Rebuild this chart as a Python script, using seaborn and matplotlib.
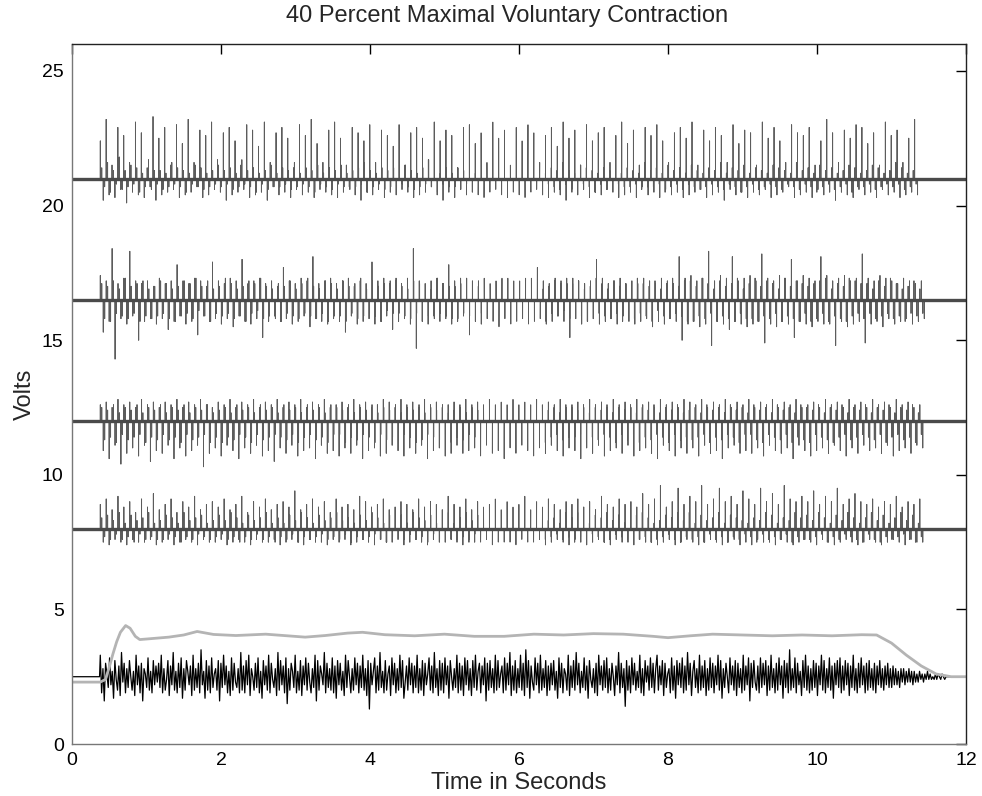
import numpy as np
import pandas as pd
import matplotlib.pyplot as plt
import seaborn as sns

# Motor unit channels: baseline offset (V), active window (s)
baselines = [21.0, 16.5, 12.0, 8.0]
spike_start = [0.38, 0.38, 0.38, 0.38]
spike_end = [11.35, 11.44, 11.42, 11.42]

# large spike excursions, tenths of a volt from the baseline
amp_a = [
    14, -8, 22, -6, 5, -7, 19, -4, 16, -9, 6, -5, 21, -6, 17, -7, 4, -3, 23, -8,
    15, -6, 19, -5, 5, -4, 20, -7, 13, -6, 22, -5, 6, -3, 18, -7, 16, -6, 21, -4,
    7, -5, 17, -8, 19, -6, 14, -5, 5, -4, 20, -7, 18, -6, 12, -5, 21, -8, 6, -3,
    17, -6, 19, -5, 15, -7, 4, -4, 20, -6, 16, -5, 22, -7, 13, -4, 6, -5, 18, -6,
    21, -7, 15, -5, 5, -3, 19, -6, 17, -8, 14, -5, 20, -6, 6, -4, 18, -7, 16, -5,
    12, -6, 20, -4, 5, -5, 17, -7, 19, -6, 15, -5, 7, -3, 21, -6, 14, -8, 18, -5,
    16, -7, 4, -4, 19, -6, 20, -5, 13, -6, 17, -7, 6, -5, 21, -4, 15, -6, 18, -7,
    5, -5, 19, -6, 14, -7, 20, -5, 17, -4, 6, -6, 16, -7, 19, -5, 12, -6, 21, -8,
    15, -5, 18, -6, 5, -4, 20, -7, 14, -5, 17, -6, 19, -4, 6, -5, 16, -7, 21, -6,
    13, -5, 18, -7, 5, -3, 19, -6, 16, -5, 20, -7, 14, -4, 6, -6, 17, -5, 19, -7,
    15, -6, 21, -5, 5, -4, 18, -7, 14, -6, 19, -5, 16, -8, 6, -4, 20, -6, 13, -5,
    18, -7, 17, -5, 5, -6, 21, -4, 15, -7, 19, -6, 14, -5, 6, -3, 20, -7, 17, -6,
    16, -5, 19, -7, 5, -4, 14, -6, 22, -5, 17, -8, 6, -5, 18, -6, 15, -7, 20, -4,
    19, -6, 13, -5, 17, -7, 5, -4, 21, -6, 16, -5, 18, -7, 6, -6, 15, -5, 22, -6,
]
amp_b = [
    9, -12, 7, -8, 19, -22, 6, -7, 8, -9, 18, -6, 7, -15, 6, -8, 7, -7, 5, -9,
    8, -7, 6, -11, 7, -8, 13, -6, 7, -9, 6, -8, 8, -13, 7, -6, 5, -8, 14, -7,
    7, -9, 6, -7, 8, -10, 7, -6, 15, -8, 6, -9, 7, -7, 8, -14, 6, -8, 7, -6,
    5, -8, 12, -7, 7, -9, 6, -8, 8, -6, 7, -10, 16, -7, 6, -8, 7, -9, 8, -7,
    6, -8, 7, -12, 8, -6, 5, -9, 7, -8, 6, -7, 14, -9, 7, -8, 8, -6, 6, -11,
    7, -8, 6, -7, 8, -9, 19, -18, 7, -8, 6, -9, 7, -6, 8, -8, 6, -7, 13, -9,
    7, -8, 8, -6, 6, -13, 7, -8, 5, -9, 8, -7, 6, -8, 7, -10, 6, -7, 8, -9,
    6, -8, 7, -7, 8, -9, 6, -8, 12, -7, 7, -9, 6, -8, 8, -6, 7, -8, 6, -14,
    8, -7, 7, -9, 6, -8, 7, -7, 15, -9, 8, -8, 6, -7, 7, -9, 8, -6, 6, -8,
    7, -9, 6, -8, 8, -7, 7, -10, 6, -8, 8, -9, 7, -7, 6, -8, 16, -15, 8, -9,
    9, -8, 7, -10, 8, -9, 18, -17, 7, -8, 9, -9, 8, -11, 16, -8, 7, -9, 8, -10,
    9, -9, 7, -8, 17, -16, 8, -9, 7, -10, 9, -8, 8, -9, 15, -14, 7, -8, 9, -9,
    8, -10, 7, -8, 16, -9, 9, -9, 7, -17, 8, -8, 9, -10, 7, -9, 8, -8, 17, -16,
    8, -9, 7, -8, 9, -10, 8, -7, 7, -9, 6, -8, 8, -7, 7, -9, 6, -8, 7, -7,
]
amp_c = [
    6, -11, 7, -14, 5, -9, 8, -16, 6, -12, 7, -10, 5, -13, 8, -9, 6, -15, 7, -11,
    5, -12, 7, -9, 6, -14, 8, -10, 5, -13, 7, -11, 6, -9, 8, -17, 6, -12, 5, -10,
    7, -13, 6, -9, 8, -11, 5, -14, 7, -10, 6, -12, 8, -9, 5, -13, 7, -11, 6, -15,
    8, -10, 5, -12, 7, -9, 6, -13, 8, -11, 5, -10, 7, -14, 6, -9, 8, -12, 5, -11,
    6, -13, 7, -10, 5, -12, 8, -9, 6, -14, 7, -11, 5, -10, 6, -13, 8, -12, 7, -9,
    5, -11, 8, -13, 6, -10, 7, -12, 5, -9, 8, -14, 6, -11, 7, -10, 5, -13, 6, -12,
    7, -9, 6, -12, 8, -11, 5, -10, 7, -13, 6, -9, 8, -12, 5, -11, 7, -14, 6, -10,
    8, -12, 5, -9, 7, -11, 6, -13, 8, -10, 5, -12, 7, -9, 6, -11, 8, -13, 5, -10,
    6, -11, 7, -14, 5, -10, 8, -12, 6, -9, 7, -13, 5, -11, 8, -10, 6, -12, 7, -9,
    5, -13, 8, -11, 6, -10, 7, -12, 5, -14, 8, -9, 6, -11, 7, -13, 5, -10, 8, -12,
    7, -10, 6, -13, 8, -9, 5, -12, 7, -11, 6, -14, 8, -10, 5, -9, 7, -12, 6, -11,
    8, -12, 5, -10, 7, -13, 6, -9, 8, -11, 5, -12, 7, -10, 6, -14, 8, -9, 5, -11,
    6, -13, 7, -11, 5, -10, 8, -12, 6, -9, 7, -11, 5, -13, 8, -10, 6, -12, 7, -9,
    5, -11, 8, -10, 6, -12, 7, -9, 5, -13, 8, -11, 6, -10, 7, -12, 5, -9, 6, -10,
]
amp_d = [
    9, -5, 11, -6, 7, -4, 12, -5, 8, -6, 10, -4, 6, -5, 11, -5, 8, -4, 13, -6,
    7, -5, 9, -4, 11, -6, 6, -5, 10, -4, 8, -5, 12, -6, 7, -4, 9, -5, 10, -5,
    8, -4, 11, -6, 7, -5, 9, -4, 12, -5, 6, -6, 10, -4, 8, -5, 11, -5, 7, -4,
    9, -6, 10, -5, 8, -4, 14, -5, 7, -6, 9, -4, 11, -5, 8, -5, 10, -6, 6, -4,
    11, -5, 8, -4, 9, -6, 7, -5, 12, -4, 10, -5, 8, -6, 9, -4, 11, -5, 7, -5,
    8, -4, 10, -6, 9, -5, 7, -4, 11, -5, 8, -6, 10, -4, 9, -5, 7, -5, 12, -4,
    9, -5, 8, -6, 11, -4, 7, -5, 10, -5, 8, -4, 9, -6, 11, -5, 7, -4, 10, -5,
    8, -6, 9, -4, 12, -5, 7, -5, 10, -4, 8, -6, 11, -5, 9, -4, 7, -5, 10, -6,
    9, -4, 11, -5, 8, -6, 10, -5, 7, -4, 12, -5, 9, -6, 8, -4, 11, -5, 9, -5,
    10, -6, 8, -4, 13, -5, 9, -5, 11, -6, 16, -5, 8, -4, 10, -6, 15, -5, 9, -4,
    12, -5, 10, -6, 16, -5, 9, -4, 11, -5, 15, -6, 10, -5, 12, -4, 9, -6, 14, -5,
    11, -6, 9, -4, 15, -5, 10, -5, 13, -6, 9, -4, 16, -5, 11, -6, 10, -5, 12, -4,
    10, -5, 14, -6, 9, -4, 12, -5, 10, -6, 15, -5, 9, -4, 11, -5, 13, -6, 10, -5,
    9, -4, 11, -5, 8, -6, 10, -5, 9, -4, 12, -5, 8, -6, 10, -4, 9, -5, 11, -5,
]

# smaller background activity between the large spikes, tenths of a volt
fuzz_a = [
    4, -3, 6, -5, 3, -2, 8, -4, 3, -3, 5, -2, 4, -5, 2, -3, 7, -4, 3, -2,
    3, -4, 2, -3, 6, -2, 4, -3, 3, -5, 2, -2, 5, -3, 4, -4, 2, -3, 3, -2,
    5, -3, 3, -2, 4, -4, 2, -3, 7, -2, 3, -3, 4, -5, 2, -2, 3, -4, 5, -3,
    2, -3, 4, -2, 3, -4, 6, -3, 2, -2, 4, -3, 3, -5, 5, -2, 2, -3, 4, -4,
    3, -2, 5, -3, 2, -4, 3, -3, 4, -2, 6, -5, 3, -3, 2, -2, 4, -4, 3, -3,
    4, -4, 2, -2, 5, -3, 3, -4, 2, -3, 4, -2, 7, -3, 3, -5, 2, -2, 4, -3,
    2, -3, 4, -4, 3, -2, 5, -3, 2, -4, 3, -3, 4, -2, 6, -3, 3, -4, 2, -2,
    5, -2, 3, -3, 4, -5, 2, -2, 3, -4, 5, -3, 2, -2, 4, -3, 3, -4, 6, -2,
    3, -4, 2, -3, 5, -2, 4, -3, 3, -5, 2, -2, 4, -4, 3, -3, 5, -2, 2, -3,
    4, -3, 3, -2, 2, -4, 6, -3, 3, -3, 4, -2, 2, -5, 5, -3, 3, -2, 4, -4,
    2, -2, 5, -3, 3, -4, 2, -3, 4, -2, 3, -3, 6, -4, 2, -2, 4, -3, 3, -5,
    5, -3, 2, -2, 4, -4, 3, -3, 2, -2, 5, -3, 4, -4, 3, -2, 2, -3, 6, -4,
    3, -2, 4, -3, 2, -5, 5, -3, 3, -2, 4, -4, 2, -3, 3, -2, 5, -5, 4, -3,
    2, -3, 3, -2, 5, -4, 4, -3, 2, -2, 3, -3, 6, -2, 4, -4, 2, -3, 3, -2,
]
fuzz_b = [
    6, -7, 5, -8, 7, -5, 4, -6, 8, -7, 5, -5, 6, -8, 7, -6, 4, -7, 5, -6,
    7, -5, 6, -7, 4, -8, 5, -6, 7, -5, 6, -7, 8, -4, 5, -6, 7, -8, 4, -5,
    5, -6, 8, -5, 6, -7, 4, -6, 5, -8, 7, -5, 6, -4, 8, -7, 5, -6, 4, -7,
    6, -8, 5, -5, 7, -6, 4, -7, 6, -5, 8, -6, 5, -7, 4, -5, 7, -8, 6, -6,
    4, -6, 7, -8, 5, -5, 6, -7, 8, -6, 4, -5, 7, -6, 5, -8, 6, -4, 7, -5,
    8, -5, 5, -6, 4, -7, 7, -5, 6, -8, 5, -6, 4, -7, 8, -5, 6, -6, 5, -7,
    5, -7, 6, -5, 8, -6, 4, -8, 7, -5, 5, -7, 6, -4, 4, -6, 8, -7, 5, -5,
    7, -6, 4, -7, 5, -5, 8, -6, 6, -7, 4, -8, 5, -5, 7, -6, 6, -4, 8, -7,
    6, -5, 7, -6, 4, -8, 5, -7, 8, -5, 6, -6, 4, -7, 7, -5, 5, -8, 6, -6,
    4, -7, 8, -5, 6, -6, 5, -8, 7, -4, 4, -6, 6, -7, 8, -5, 5, -6, 7, -8,
    7, -8, 5, -6, 8, -7, 6, -5, 4, -8, 7, -6, 5, -7, 6, -8, 8, -5, 4, -7,
    6, -7, 8, -8, 5, -6, 7, -7, 6, -5, 4, -8, 8, -6, 5, -7, 7, -8, 6, -5,
    5, -8, 6, -7, 7, -5, 8, -8, 4, -6, 6, -7, 5, -8, 8, -6, 7, -5, 6, -7,
    6, -5, 4, -7, 7, -6, 5, -5, 8, -7, 6, -6, 4, -8, 5, -5, 7, -6, 4, -5,
]
fuzz_c = [
    5, -7, 4, -6, 6, -8, 3, -5, 5, -7, 4, -6, 6, -5, 3, -8, 5, -6, 4, -7,
    6, -5, 3, -7, 5, -6, 4, -8, 6, -5, 3, -7, 5, -6, 4, -5, 6, -8, 3, -6,
    4, -8, 5, -6, 3, -7, 6, -5, 4, -6, 5, -8, 3, -5, 6, -7, 4, -6, 5, -5,
    3, -6, 6, -7, 4, -5, 5, -8, 3, -6, 6, -5, 4, -7, 5, -6, 3, -8, 6, -5,
    5, -5, 4, -8, 6, -6, 3, -7, 5, -5, 4, -6, 6, -8, 3, -5, 5, -7, 4, -6,
    6, -7, 3, -5, 5, -6, 4, -8, 6, -7, 3, -5, 5, -6, 4, -7, 6, -5, 3, -8,
    4, -6, 5, -7, 3, -5, 6, -6, 4, -8, 5, -5, 3, -7, 6, -6, 4, -5, 5, -8,
    3, -8, 6, -5, 4, -6, 5, -7, 3, -5, 6, -8, 4, -6, 5, -5, 3, -7, 6, -6,
    5, -6, 4, -5, 6, -8, 3, -6, 5, -7, 4, -5, 6, -6, 3, -8, 5, -5, 4, -7,
    6, -5, 3, -8, 5, -6, 4, -7, 6, -5, 3, -6, 5, -8, 4, -5, 6, -7, 3, -6,
    4, -7, 5, -6, 3, -5, 6, -8, 4, -6, 5, -7, 3, -5, 6, -6, 4, -8, 5, -5,
    3, -5, 6, -7, 4, -8, 5, -5, 3, -6, 6, -7, 4, -5, 5, -8, 3, -6, 6, -7,
    5, -8, 4, -5, 6, -6, 3, -7, 5, -8, 4, -6, 6, -5, 3, -7, 5, -6, 4, -5,
    6, -6, 3, -7, 5, -5, 4, -8, 6, -6, 3, -5, 5, -7, 4, -6, 6, -8, 3, -5,
]
fuzz_d = [
    4, -3, 5, -4, 3, -2, 6, -4, 2, -3, 5, -5, 3, -2, 4, -4, 6, -3, 2, -4,
    3, -4, 5, -2, 4, -3, 2, -5, 6, -3, 3, -4, 4, -2, 5, -3, 2, -4, 3, -3,
    5, -2, 3, -4, 6, -3, 4, -5, 2, -3, 5, -4, 3, -2, 4, -4, 6, -3, 2, -5,
    4, -3, 2, -4, 5, -2, 3, -5, 6, -3, 4, -4, 2, -3, 5, -2, 3, -4, 4, -3,
    6, -4, 3, -2, 4, -5, 2, -3, 5, -4, 3, -3, 6, -2, 4, -4, 2, -5, 5, -3,
    3, -3, 5, -4, 2, -2, 6, -4, 4, -3, 3, -5, 5, -2, 2, -4, 4, -3, 6, -4,
    2, -4, 4, -3, 6, -5, 3, -2, 5, -4, 4, -3, 2, -4, 6, -3, 3, -5, 4, -2,
    5, -3, 3, -4, 4, -2, 6, -5, 2, -3, 5, -4, 3, -3, 4, -2, 2, -4, 6, -3,
    4, -5, 6, -3, 3, -4, 2, -2, 5, -3, 4, -5, 6, -4, 3, -2, 5, -3, 2, -4,
    3, -2, 5, -4, 6, -3, 4, -5, 2, -4, 3, -3, 5, -2, 4, -4, 6, -5, 3, -3,
    6, -4, 2, -3, 5, -5, 3, -2, 4, -4, 6, -3, 2, -5, 5, -3, 4, -4, 3, -2,
    2, -3, 4, -5, 3, -2, 6, -4, 5, -3, 2, -4, 4, -2, 3, -5, 6, -3, 4, -4,
    5, -4, 3, -3, 6, -2, 4, -5, 2, -3, 5, -4, 3, -2, 6, -3, 4, -4, 2, -5,
    4, -2, 6, -4, 3, -5, 5, -3, 2, -4, 4, -3, 6, -2, 3, -4, 5, -5, 2, -3,
]
spike_amps = [amp_a, amp_b, amp_c, amp_d]
fuzz_amps = [fuzz_a, fuzz_b, fuzz_c, fuzz_d]

# Surface EMG (black), tenths of a volt around 2.5 V
emg_base = 2.5
emg_start = 0.38
emg_end = 11.75
emg_vals = [
    8, -6, 3, -9, 5, 1, -4, 7, -3, 2, -8, 6, -1, -5, 4, -7, 9, -2, 5, -6,
    3, -4, 6, 0, -5, 2, -7, 8, -3, 4, -6, 5, -9, 3, 1, -4, 7, -5, 2, -6,
    6, -3, 4, -2, 5, -4, 8, -6, 3, -5, -1, 6, -7, 4, -3, 9, -5, 2, -6, 5,
    -4, 7, -8, 3, -5, 6, 2, -3, 4, -7, 8, -5, 3, -4, 5, -6, 10, -3, 2, -8,
    6, -5, 4, -6, 7, -4, 1, 3, -5, 6, -9, 5, -4, 8, -3, 4, -6, 2, -7, 7,
    -5, 5, -2, -4, 3, -6, 9, -5, 4, -6, 6, -3, 8, -7, 3, 0, -5, 5, -4, 7,
    -6, 2, -8, 6, -3, 4, -5, 8, -6, 5, -1, -4, 3, -7, 9, -5, 6, -3, 4, -6,
    7, -10, 3, -5, 5, 2, -4, 8, -6, 2, -5, 6, -7, 4, -3, 7, -5, 5, -2, -6,
    3, -4, 8, -9, 6, -5, 4, 1, -3, 9, -6, 5, -4, 3, -5, 7, -6, 4, -8, 6,
    -3, 5, -5, 2, -7, 8, -4, 6, 0, -6, 3, -5, 7, -3, 5, -6, 4, -4, 8, -5,
    3, -7, 6, -12, 5, -3, 2, 7, -6, 4, -5, 9, -4, 2, -6, 6, -5, 1, 4, -7,
    7, -3, 5, -6, 3, -5, 8, -4, 6, -8, -2, 4, -5, 7, -3, 5, -6, 4, -4, 8,
    -6, 3, -5, 6, -7, 5, -3, 1, 7, -5, 4, -6, 9, -4, 3, -7, 6, -5, 5, -6,
    7, -3, 4, -8, 6, 0, -5, 3, -4, 8, -6, 5, -5, 4, -7, 7, -3, 6, -5, 3,
    -7, 6, -4, 8, -5, 2, 5, -6, 4, -3, 7, -9, 5, -5, 6, -4, 3, -6, 8, -5,
    6, -4, 1, 4, -6, 7, -5, 5, -3, 9, -7, 4, -5, 6, -6, 3, -4, 8, -5, 5,
    -7, 10, -4, 6, -8, 4, -2, -5, 7, -3, 5, -6, 8, -5, 3, -4, 6, -7, 4, -5,
    5, -3, 6, -5, 2, -8, 7, -4, 5, -6, 3, 1, -5, 8, -7, 4, -4, 6, -5, 9,
    -3, 5, -6, 2, -4, 7, -5, 4, -8, 6, -1, -4, 3, -6, 5, -7, 8, -3, 4, -5,
    6, -4, 7, -6, 3, -5, 5, 0, -7, 4, -3, 9, -6, 5, -4, 3, -11, 6, -5, 4,
    -6, 7, -3, 5, -5, 2, -4, 8, -6, 3, -7, 6, -2, 4, -5, 7, -4, 5, -6, 3,
    8, -5, 4, -3, 6, -7, 5, -4, 1, 3, -6, 7, -5, 4, -8, 6, -3, 5, -4, 7,
    -6, 4, -5, 9, -3, 5, -7, 2, 6, -4, 3, -6, 8, -5, 4, -4, 6, -7, 3, -5,
    7, -4, 5, -6, 4, -3, 8, -5, 6, -8, 3, -4, 5, 0, -6, 7, -3, 4, -5, 6,
    -7, 5, -4, 3, -6, 8, -5, 4, -3, 7, -9, 5, -4, 6, -2, -5, 4, -6, 7, -4,
    5, -3, 6, -7, 4, -5, 8, -4, 3, -6, 5, -5, 7, -3, 4, -8, 6, -4, 5, -6,
    10, -5, 3, -4, 7, -6, 5, -3, 2, -7, 6, -4, 8, -5, 4, -6, 3, -5, 6, -4,
    5, -7, 4, -3, 8, -5, 6, -6, 3, -4, 7, -5, 4, -8, 5, -3, 6, -4, 7, -6,
    4, -5, 6, -3, 5, -7, 4, -4, 8, -5, 3, -6, 5, -4, 7, -3, 4, -6, 5, -5,
    6, -4, 3, -5, 5, -6, 4, -3, 6, -4, 3, -5, 4, -3, 5, -4, 3, -4, 4, -3,
    3, -3, 2, -4, 3, -2, 3, -3, 2, -2, 3, -2, 2, -3, 2, -2, 1, -2, 2, -1,
    1, -2, 1, -1, 2, -1, 1, -1, 0, -1, 1, -1, 1, 0, -1, 1, 0, -1, 0, 0,
]

# Force signal (light gray)
force_t = [0.0, 0.38, 0.45, 0.5, 0.55, 0.6, 0.65, 0.72, 0.78, 0.85, 0.91, 1.0, 1.3,
           1.5, 1.68, 1.9, 2.2, 2.6, 3.13, 3.4, 3.7, 3.9, 4.2, 4.6, 5.0, 5.4, 5.8,
           6.2, 6.6, 7.0, 7.4, 7.8, 8.0, 8.3, 8.6, 9.0, 9.4, 9.8, 10.2, 10.6, 10.8,
           11.0, 11.2, 11.4, 11.6, 11.8, 12.0]
force_v = [2.3, 2.3, 2.4, 2.85, 3.35, 3.8, 4.15, 4.4, 4.3, 4.0, 3.88, 3.9, 3.97,
           4.05, 4.18, 4.07, 4.03, 4.08, 3.97, 4.03, 4.12, 4.15, 4.06, 4.02, 4.08,
           4.0, 4.0, 4.08, 4.05, 4.1, 4.08, 4.0, 3.95, 4.02, 4.08, 4.05, 4.02, 4.05,
           4.02, 4.06, 4.05, 3.75, 3.3, 2.9, 2.6, 2.5, 2.5]


def spike_frame(base, t0, t1, amps, fuzz):
    a = np.array(amps) * 0.1
    f = np.array(fuzz) * 0.1
    ta = np.linspace(t0, t1, len(a))
    half = (ta[1] - ta[0]) / 2
    tf = np.linspace(t0 + half, t1 - half, len(f))
    t = np.concatenate([ta, tf])
    v = np.concatenate([a, f])
    order = np.argsort(t, kind="stable")
    t, v = t[order], v[order]
    b = np.full_like(v, base)
    x = np.concatenate([[0.0], np.repeat(t, 3), [12.0]])
    y = np.concatenate([[base], np.column_stack([b, b + v, b]).ravel(), [base]])
    return pd.DataFrame({"t": x, "v": y})


sns.set_style("white")
plt.rcParams["font.family"] = ["Liberation Sans", "DejaVu Sans"]

fig = plt.figure(figsize=(9.82, 7.96), dpi=100)
ax = fig.add_axes([0.0733, 0.0653, 0.9104, 0.8794])

trace_color = "#5c5c5c"
for base, t0, t1, amps, fuzz in zip(baselines, spike_start, spike_end, spike_amps, fuzz_amps):
    df = spike_frame(base, t0, t1, amps, fuzz)
    sns.lineplot(data=df, x="t", y="v", sort=False, estimator=None,
                 color=trace_color, lw=0.65, ax=ax)
    sns.lineplot(x=[0, 12], y=[base, base], color="#4a4a4a", lw=2.4, ax=ax)

emg = np.array(emg_vals) * 0.1
emg_t = np.concatenate([[0.0, emg_start - 0.01], np.linspace(emg_start, emg_end, len(emg)), [12.0]])
emg_y = np.concatenate([[emg_base, emg_base], emg_base + emg, [emg_base]])
sns.lineplot(x=emg_t, y=emg_y, sort=False, estimator=None, color="black", lw=0.9, ax=ax)

sns.lineplot(x=force_t, y=force_v, sort=False, estimator=None, color="#b4b4b4", lw=2.0, ax=ax)

ax.set_xlim(0, 12)
ax.set_ylim(0, 26)
ax.set_xticks(range(0, 13, 2))
ax.set_yticks(range(0, 26, 5))
ax.tick_params(direction="in", top=True, right=True, length=7, width=1,
               labelsize=14, colors="black", pad=6)
for side in ["top", "right"]:
    ax.spines[side].set_color("#222222")
for side in ["left", "bottom"]:
    ax.spines[side].set_color("#777777")
for s in ax.spines.values():
    s.set_linewidth(1.0)

ax.set_title("40 Percent Maximal Voluntary Contraction", fontsize=17, pad=16, x=0.487)
ax.set_xlabel("Time in Seconds", fontsize=17, labelpad=2)
ax.set_ylabel("Volts", fontsize=17, labelpad=4)

fig.savefig("out.png", dpi=100)
